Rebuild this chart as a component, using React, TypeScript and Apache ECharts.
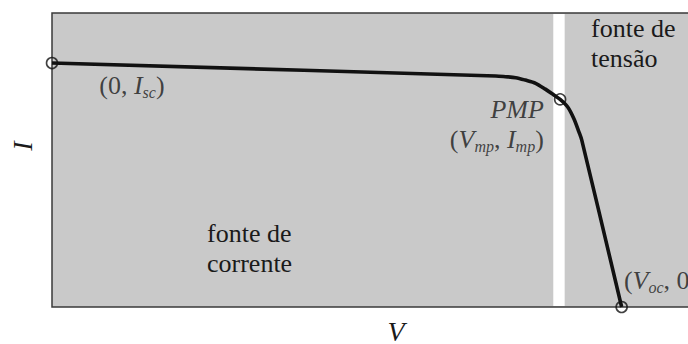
import React, { useEffect, useRef } from "react";
import * as echarts from "echarts";

// I-V curve of a photovoltaic cell, normalised: V / Voc and I / Isc
const voltage = [0, 0.779, 0.796, 0.814, 0.831, 0.849, 0.866, 0.881, 0.892, 0.905, 0.916, 0.925, 0.93, 1.0];
const current = [1.0, 0.947, 0.944, 0.94, 0.93, 0.917, 0.893, 0.869, 0.851, 0.821, 0.773, 0.718, 0.684, 0];

// Characteristic points: short circuit, maximum power, open circuit
const pointNames = ["isc", "pmp", "voc"];
const pointV = [0, 0.892, 1.0];
const pointI = [1.0, 0.851, 0];
const pointLabels = [
  "{n|(0, }{i|I}{s|sc}{n|)}",
  "{i|PMP}\n{n|(}{i|V}{s|mp}{n|, }{i|I}{s|mp}{n|)}",
  "{n|(}{i|V}{s|oc}{n|, 0)}",
];

// Boundary strip between the current-source and voltage-source regions
const bandRange = [0.88, 0.9];

const vMax = 1.12;
const iMax = 1.205;

const SERIF = "Liberation Serif";
const INK = "#1a1a1a";

const rich = {
  n: { fontFamily: SERIF, fontSize: 26, fontStyle: "normal", lineHeight: 30, color: INK },
  i: { fontFamily: SERIF, fontSize: 26, fontStyle: "italic", lineHeight: 30, color: INK },
  s: {
    fontFamily: SERIF,
    fontSize: 16,
    fontStyle: "italic",
    lineHeight: 16,
    verticalAlign: "bottom",
    color: INK,
  },
};

const labelPlacement: Record<string, any> = {
  isc: { position: "right", offset: [36, 22] },
  pmp: { position: "left", offset: [-5, 25] },
  voc: { position: "right", offset: [-9, -27] },
};

export default function App() {
  const ref = useRef<HTMLDivElement>(null);

  useEffect(() => {
    if (!ref.current) return;
    const chart = echarts.init(ref.current, null, { renderer: "svg" });

    const curve = voltage.map((v, k) => [v, current[k]]);
    const points = pointNames.map((name, k) => ({
      name,
      value: [pointV[k], pointI[k]],
      label: {
        show: true,
        formatter: pointLabels[k],
        fontFamily: SERIF,
        fontSize: 26,
        lineHeight: 30,
        color: INK,
        rich,
        ...labelPlacement[name],
      },
    }));

    const regionText = (text: string, left: number, top: number) => ({
      type: "text",
      left,
      top,
      silent: true,
      style: {
        text,
        fontFamily: SERIF,
        fontSize: 26,
        lineHeight: 30,
        fill: INK,
      },
    });

    chart.setOption({
      animation: false,
      backgroundColor: "#ffffff",
      textStyle: { fontFamily: SERIF },
      grid: {
        left: 52,
        top: 13,
        right: -2,
        bottom: 37,
        outerBoundsMode: "none",
        containLabel: false,
        show: true,
        backgroundColor: "#c9c9c9",
        borderColor: "#3a3a3a",
        borderWidth: 1.5,
      },
      xAxis: {
        type: "value",
        min: 0,
        max: vMax,
        name: "V",
        nameLocation: "middle",
        nameGap: 11,
        nameTextStyle: {
          fontFamily: SERIF,
          fontSize: 28,
          lineHeight: 26,
          fontStyle: "italic",
          color: INK,
          padding: [0, 0, 0, 50],
        },
        axisLine: { show: false },
        axisTick: { show: false },
        axisLabel: { show: false },
        splitLine: { show: false },
      },
      yAxis: {
        type: "value",
        min: 0,
        max: iMax,
        name: "I",
        nameLocation: "middle",
        nameRotate: 90,
        nameGap: 16,
        nameTextStyle: {
          fontFamily: SERIF,
          fontSize: 28,
          fontStyle: "italic",
          color: INK,
          padding: [0, 0, 0, 28],
        },
        axisLine: { show: false },
        axisTick: { show: false },
        axisLabel: { show: false },
        splitLine: { show: false },
      },
      graphic: [regionText("fonte de\ncorrente", 207, 218), regionText("fonte de\ntensão", 591, 13)],
      series: [
        {
          type: "line",
          data: curve,
          smooth: 0.3,
          showSymbol: false,
          silent: true,
          lineStyle: { color: "#111111", width: 3.6 },
          markArea: {
            silent: true,
            itemStyle: { color: "#ffffff", opacity: 1 },
            data: [[{ xAxis: bandRange[0], yAxis: 0.004 }, { xAxis: bandRange[1], yAxis: iMax - 0.004 }]],
          },
          z: 3,
        },
        {
          type: "scatter",
          data: points,
          symbol: "circle",
          symbolSize: 11,
          silent: true,
          itemStyle: { color: "rgba(0,0,0,0)", borderColor: "#111111", borderWidth: 1.6 },
          z: 4,
        },
      ],
    });

    return () => chart.dispose();
  }, []);

  return (
    <div
      ref={ref}
      style={{ position: "fixed", left: 0, top: 0, width: 688, height: 344 }}
    />
  );
}
